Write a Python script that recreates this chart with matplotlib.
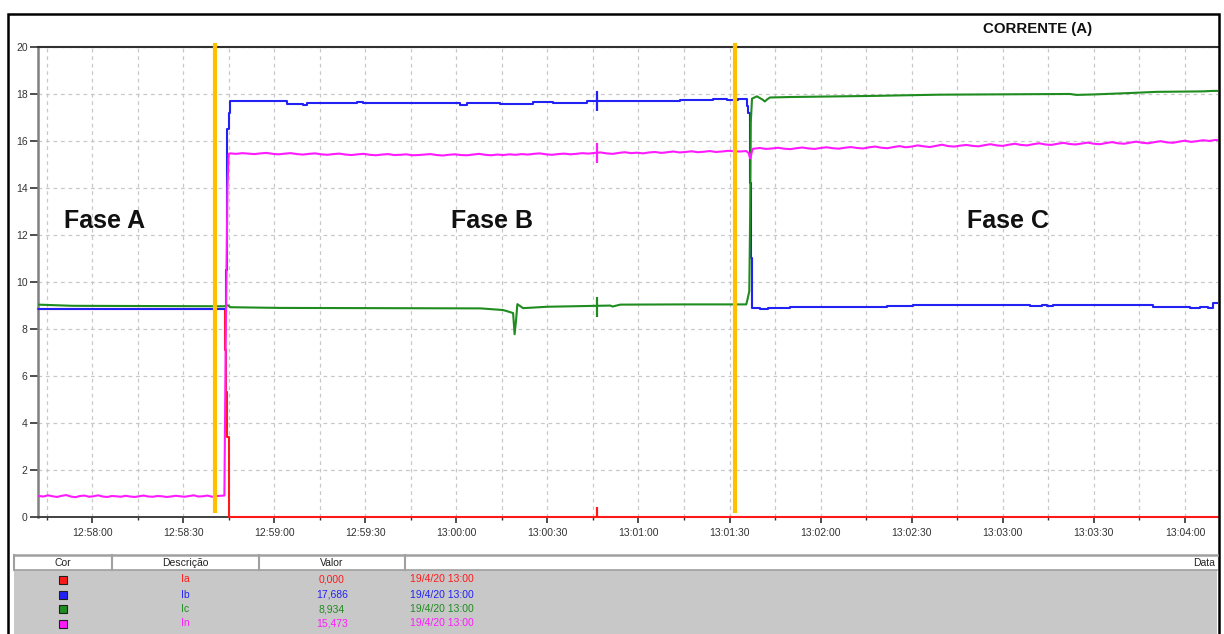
import numpy as np
import matplotlib
matplotlib.use("Agg")
import matplotlib.pyplot as plt
from matplotlib.patches import Rectangle
from matplotlib.lines import Line2D

plt.rcParams['font.family'] = ['Liberation Sans', 'DejaVu Sans']

W, H = 1224, 634

# ---- time axis: seconds after 12:58:00 ----
T_START, T_END = -17.8, 370.9
tick_seconds = [0, 30, 60, 90, 120, 150, 180, 210, 240, 270, 300, 330, 360]
tick_labels = ["12:58:00", "12:58:30", "12:59:00", "12:59:30", "13:00:00",
               "13:00:30", "13:01:00", "13:01:30", "13:02:00", "13:02:30",
               "13:03:00", "13:03:30", "13:04:00"]
minor_seconds = [-15, 15, 45, 75, 105, 135, 165, 195, 225, 255, 285, 315, 345]

# ---- Ia (phase A current) ----
ia_t = [-17.8, 43.5, 43.9, 44.2, 44.6, 45.0, 45.2, 370.9]
ia_v = [8.84, 8.84, 7.1, 5.3, 3.4, 1.1, 0.0, 0.0]

# ---- Ib (phase B current) ----
ib_t = [-17.8, -2.0, 12.0, 43.3, 44.0, 44.4, 44.6, 45.1, 45.5, 64.2, 69.6, 70.8,
        87.3, 89.3, 121.3, 123.5, 134.4, 138.7, 145.3, 151.9, 163.0, 177.2,
        187.1, 193.7, 204.6, 209.1, 212.8, 215.7, 216.2, 216.6, 216.9, 217.2,
        217.4, 220.0, 222.7, 229.9, 261.8, 270.5, 282.6, 284.8, 285.9, 309.0,
        312.8, 314.5, 316.5, 349.5, 361.6, 364.9, 367.6, 369.2, 370.9]
ib_v = [8.86, 8.85, 8.86, 8.86, 10.5, 13.0, 16.5, 17.2, 17.69, 17.59, 17.55, 17.62,
        17.66, 17.60, 17.55, 17.62, 17.57, 17.59, 17.66, 17.62, 17.69, 17.72,
        17.71, 17.74, 17.77, 17.74, 17.77, 17.5, 17.2, 16.95, 14.2, 11.0,
        8.89, 8.85, 8.89, 8.94, 8.96, 9.00, 9.03, 9.00, 9.03, 8.98,
        9.03, 8.98, 9.02, 8.94, 8.87, 8.94, 8.87, 9.12, 9.10]

# ---- Ic (phase C current) ----
ic_t = [-17.8, -6.5, 43.5, 44.8, 45.5, 62.0, 128.0, 135.4, 137.5, 138.7, 139.2,
        139.7, 140.1, 142.0, 150.0, 170.7, 171.5, 174.0, 195.0, 215.5, 216.0,
        216.5, 216.8, 217.0, 217.4, 219.0, 221.0, 221.6, 222.5, 223.3, 229.9,
        258.5, 266.2, 279.3, 322.1, 324.3, 330.0, 341.9, 350.6, 365.9, 369.2, 370.9]
ic_v = [9.03, 8.98, 8.96, 9.00, 8.92, 8.89, 8.87, 8.80, 8.72, 8.67, 7.77,
        8.40, 9.05, 8.88, 8.94, 8.99, 8.95, 9.03, 9.04, 9.04, 9.30,
        9.60, 13.0, 16.8, 17.80, 17.90, 17.75, 17.68, 17.78, 17.85, 17.87,
        17.92, 17.94, 17.97, 18.00, 17.96, 17.98, 18.04, 18.09, 18.11, 18.13, 18.13]

# ---- In (neutral current) ----
in_a_start, in_a_step = -17.5, 1.5
in_a = [0.88, 0.86, 0.91, 0.87, 0.84, 0.89, 0.92, 0.86, 0.83, 0.88, 0.90, 0.85,
        0.87, 0.91, 0.86, 0.84, 0.88, 0.87, 0.85, 0.89, 0.86, 0.84, 0.87, 0.90,
        0.86, 0.85, 0.88, 0.87, 0.84, 0.86, 0.89, 0.87, 0.85, 0.88, 0.91, 0.86,
        0.87, 0.90, 0.85, 0.88, 0.89]
in_rise_t = [43.6, 44.0, 44.6, 45.0]
in_rise_v = [0.90, 7.0, 14.0, 15.45]
in_b_start, in_b_step = 45.5, 2.0
in_b = [15.47, 15.45, 15.48, 15.46, 15.44, 15.47, 15.49, 15.45, 15.43, 15.46,
        15.48, 15.44, 15.42, 15.45, 15.47, 15.43,
        15.41, 15.44, 15.46, 15.42, 15.40, 15.43, 15.45, 15.41, 15.39, 15.42,
        15.44, 15.40, 15.41, 15.43, 15.39, 15.40, 15.42, 15.44, 15.40, 15.38,
        15.41, 15.43, 15.40, 15.39, 15.42, 15.45, 15.41, 15.39, 15.42, 15.40,
        15.43, 15.41,
        15.44, 15.42, 15.45, 15.47, 15.43, 15.41, 15.44, 15.46, 15.43, 15.45, 15.48,
        15.46, 15.49, 15.51, 15.47, 15.45, 15.49, 15.52, 15.48, 15.50, 15.47,
        15.51, 15.53, 15.49, 15.52, 15.55, 15.51, 15.53, 15.56, 15.52, 15.54,
        15.57, 15.53, 15.55, 15.58, 15.56, 15.55, 15.57]
in_sw_t = [216.3, 216.8, 217.2, 217.6]
in_sw_v = [15.48, 15.25, 15.45, 15.66]
in_c_start, in_c_step = 218.0, 2.0
in_c = [15.67, 15.70, 15.66, 15.68, 15.71, 15.67, 15.65, 15.69, 15.72, 15.68, 15.66, 15.70,
        15.73, 15.69, 15.67, 15.71, 15.74, 15.70, 15.68, 15.73, 15.76, 15.71, 15.69, 15.74,
        15.78, 15.73, 15.76, 15.81, 15.77, 15.74, 15.79, 15.84, 15.78, 15.76, 15.80, 15.83,
        15.79, 15.77, 15.82, 15.86, 15.81, 15.79, 15.84, 15.88, 15.83, 15.81, 15.86, 15.90,
        15.85, 15.83, 15.88, 15.92, 15.87, 15.85, 15.89, 15.93, 15.88, 15.86, 15.91, 15.95,
        15.90, 15.88, 15.93, 15.97, 15.92, 15.90, 15.95, 15.99, 15.94, 15.92, 15.97, 16.01,
        15.96, 15.99, 16.03, 16.00, 16.04, 16.02]

# ---- cursor readout ----
cursor_time = 166.4
cursor_values = [0.000, 17.686, 8.934, 15.473]
cursor_stamp = "19/4/20 13:00"

series_names = ["Ia", "Ib", "Ic", "In"]
series_colors = ["#FF1A1A", "#2222F5", "#1E8C1E", "#FF1AFF"]

# ---- phase boundaries ----
phase_bounds = [40.6, 211.8]
phase_names = ["Fase A", "Fase B", "Fase C"]


def seg_times(start, step, values):
    return start + step * np.arange(len(values))


in_t = np.concatenate([seg_times(in_a_start, in_a_step, in_a), in_rise_t,
                       seg_times(in_b_start, in_b_step, in_b), in_sw_t,
                       seg_times(in_c_start, in_c_step, in_c)])
in_v = np.concatenate([in_a, in_rise_v, in_b, in_sw_v, in_c])


def px(x, y):
    return x / W, 1 - y / H


fig = plt.figure(figsize=(W / 100, H / 100), dpi=100)
fig.patch.set_facecolor("white")

ax = fig.add_axes([38 / W, 1 - 516.7 / H, (1218 - 38) / W, (516.7 - 47) / H])
ax.set_xlim(T_START, T_END)
ax.set_ylim(0, 20)

# grid
ax.set_xticks(tick_seconds)
ax.set_xticklabels(tick_labels)
ax.set_xticks(minor_seconds, minor=True)
ax.set_yticks(range(0, 21, 2))
ax.grid(True, which="both", axis="x", color="#C8C8C8", linestyle=(0, (3, 3)), linewidth=0.9)
ax.grid(True, which="major", axis="y", color="#C8C8C8", linestyle=(0, (3, 3)), linewidth=0.9)
ax.set_axisbelow(True)

ax.spines["right"].set_visible(False)
ax.spines["top"].set_color("#303030")
ax.spines["top"].set_linewidth(1.5)
ax.spines["left"].set_color("#808080")
ax.spines["left"].set_linewidth(1.8)
ax.spines["bottom"].set_color("#404040")
ax.spines["bottom"].set_linewidth(1.4)

ax.tick_params(axis="y", direction="out", length=6, width=1.2, color="#303030",
               labelsize=7.5, labelcolor="#333333", pad=1.5)
ax.tick_params(axis="x", which="major", direction="out", length=4.5, width=1.2,
               color="#303030", labelsize=7.5, labelcolor="#333333", pad=3.5)
ax.tick_params(axis="x", which="minor", direction="out", length=2.5, width=1.0,
               color="#303030")

lw = 1.5
ax.plot(ia_t, ia_v, color=series_colors[0], lw=lw, drawstyle="steps-post",
        clip_on=False, zorder=3)
ax.plot(ib_t, ib_v, color=series_colors[1], lw=lw, drawstyle="steps-post", zorder=4)
ax.plot(ic_t, ic_v, color=series_colors[2], lw=lw, zorder=5)
ax.plot(in_t, in_v, color=series_colors[3], lw=lw, zorder=6)

# cursor marks on each trace
for val, col in zip(cursor_values, series_colors):
    ax.plot([cursor_time], [val], marker="|", markersize=14.5, mew=1.6,
            color=col, linestyle="none", zorder=7)

# phase boundaries
for tb in phase_bounds:
    ax.plot([tb, tb], [0.15, 20.15], color="#FFC000", lw=3.0, clip_on=False,
            solid_capstyle="butt", zorder=8)

# phase labels
phase_label_x = [4.0, 131.8, 301.7]
for name, xl in zip(phase_names, phase_label_x):
    ax.text(xl, 12.6, name, ha="center", va="center", fontsize=18,
            fontweight="bold", color="#111111", zorder=9)

# title
fig.text(*px(1038, 29), "CORRENTE (A)", ha="center", va="center",
         fontsize=10.8, fontweight="bold", color="#111111")

# outer frame
x0, y0 = px(8, 14)
x1, _ = px(1219, 0)
fig.add_artist(Rectangle((x0, -0.01), x1 - x0, y0 + 0.01, transform=fig.transFigure,
                         fill=False, edgecolor="black", linewidth=1.8))

# ---- readout table ----
tl, tr = 14, 1217
hy0, hy1 = 555, 570
fig.add_artist(Rectangle(px(tl, 634), (tr - tl) / W, (634 - hy1) / H,
                         transform=fig.transFigure, facecolor="#C8C8C8",
                         edgecolor="none"))
fig.add_artist(Rectangle(px(tl, hy1), (tr - tl) / W, (hy1 - hy0) / H,
                         transform=fig.transFigure, facecolor="white",
                         edgecolor="none"))
fig.add_artist(Line2D([tl / W, tr / W], [1 - hy0 / H] * 2, transform=fig.transFigure,
                      color="#A0A0A0", lw=1.8))
fig.add_artist(Line2D([tl / W, tr / W], [1 - hy1 / H] * 2, transform=fig.transFigure,
                      color="#A0A0A0", lw=1.2))
for xs in [tl, 112, 259, 405]:
    fig.add_artist(Line2D([xs / W] * 2, [1 - hy0 / H, 1 - hy1 / H],
                          transform=fig.transFigure, color="#A0A0A0", lw=1.5))

hy = (hy0 + hy1) / 2
hdr_kw = dict(ha="center", va="center", fontsize=7.5, color="#222222")
fig.text(*px(63, hy), "Cor", **hdr_kw)
fig.text(*px(185, hy), "Descrição", **hdr_kw)
fig.text(*px(332, hy), "Valor", **hdr_kw)
fig.text(*px(1215, hy), "Data", ha="right", va="center", fontsize=7.5, color="#222222")

row_y = [579.5, 594.5, 609, 623.5]
for name, col, val, ry in zip(series_names, series_colors, cursor_values, row_y):
    fig.add_artist(Rectangle(px(59, ry + 4), 8 / W, 8 / H, transform=fig.transFigure,
                             facecolor=col, edgecolor="#202020", linewidth=0.8))
    fig.text(*px(185, ry), name, ha="center", va="center", fontsize=7.5, color=col)
    fig.text(*px(332, ry), f"{val:.3f}".replace(".", ","), ha="center",
             va="center", fontsize=7.5, color=col)
    fig.text(*px(410, ry), cursor_stamp, ha="left", va="center", fontsize=7.5, color=col)

fig.savefig("out.png", dpi=100)
